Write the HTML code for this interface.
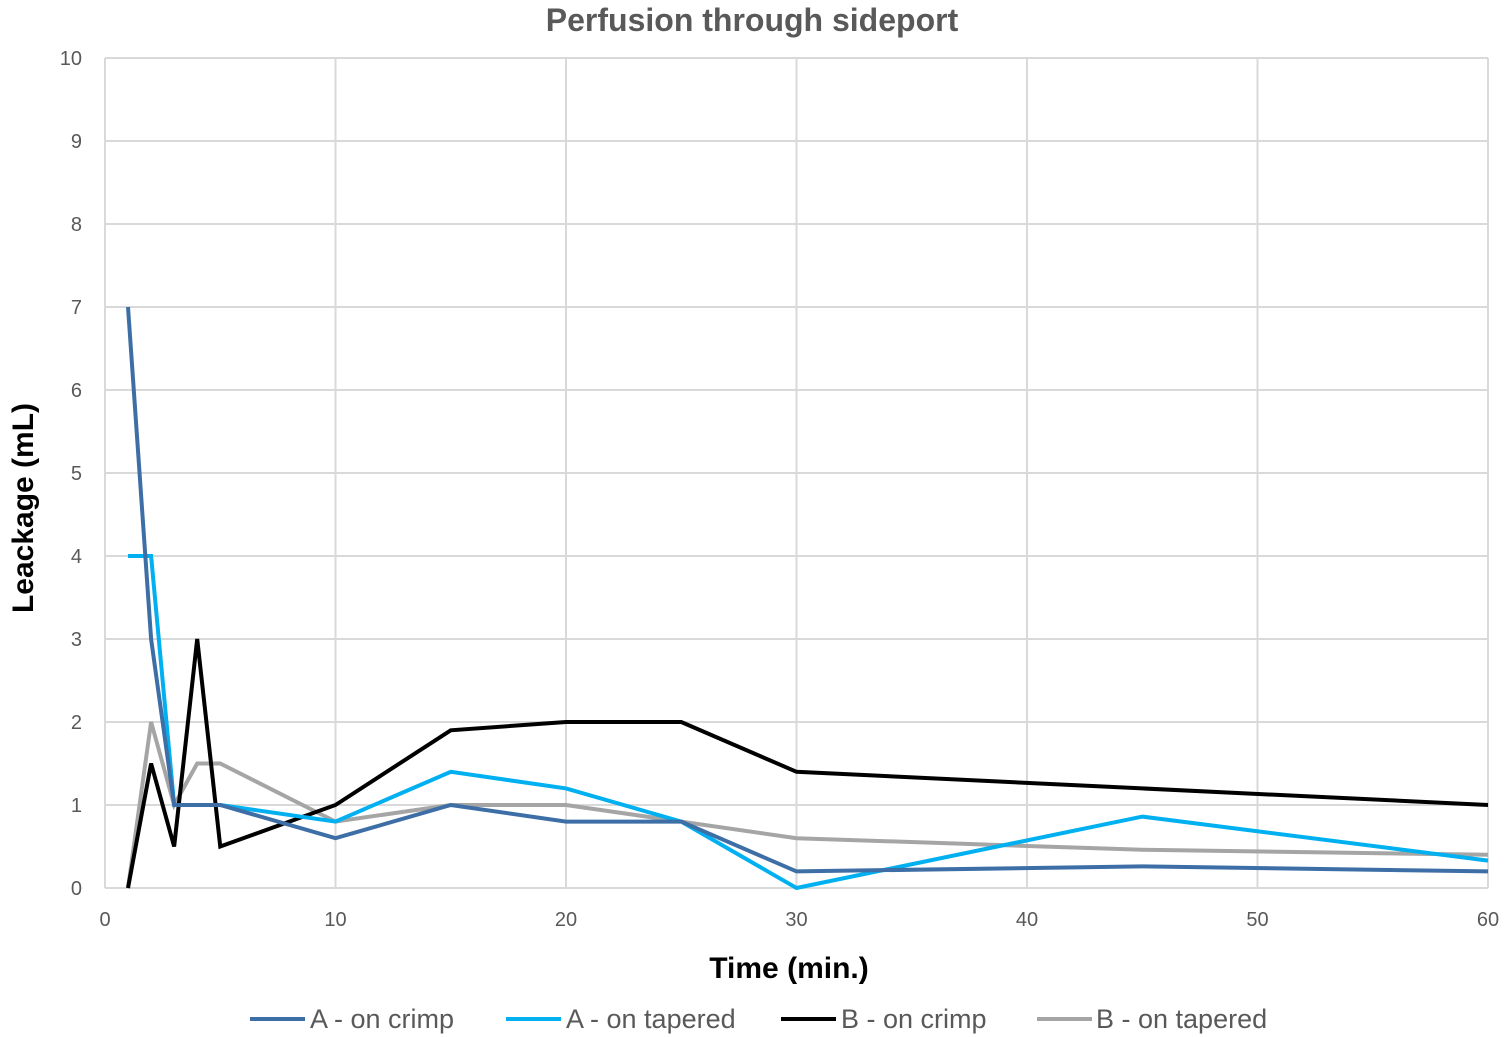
<!DOCTYPE html>
<html><head><meta charset="utf-8"><style>
html,body{margin:0;padding:0;background:#fff;}
svg{display:block;font-family:"Liberation Sans",sans-serif;}
</style></head><body>
<svg width="1505" height="1037" viewBox="0 0 1505 1037">
<rect width="1505" height="1037" fill="#fff"/>
<text x="752" y="31" text-anchor="middle" font-size="32" font-weight="bold" fill="#595959">Perfusion through sideport</text>
<g stroke="#d9d9d9" stroke-width="2" fill="none">
<line x1="105" y1="58" x2="1488" y2="58"/><line x1="105" y1="141" x2="1488" y2="141"/><line x1="105" y1="224" x2="1488" y2="224"/><line x1="105" y1="307" x2="1488" y2="307"/><line x1="105" y1="390" x2="1488" y2="390"/><line x1="105" y1="473" x2="1488" y2="473"/><line x1="105" y1="556" x2="1488" y2="556"/><line x1="105" y1="639" x2="1488" y2="639"/><line x1="105" y1="722" x2="1488" y2="722"/><line x1="105" y1="805" x2="1488" y2="805"/><line x1="105" y1="888" x2="1488" y2="888"/>
<line x1="105" y1="58" x2="105" y2="888"/><line x1="335.5" y1="58" x2="335.5" y2="888"/><line x1="566" y1="58" x2="566" y2="888"/><line x1="796.5" y1="58" x2="796.5" y2="888"/><line x1="1027" y1="58" x2="1027" y2="888"/><line x1="1257.5" y1="58" x2="1257.5" y2="888"/><line x1="1488" y1="58" x2="1488" y2="888"/>
</g>
<g font-size="20" fill="#595959" text-anchor="end">
<text x="82" y="65">10</text><text x="82" y="148">9</text><text x="82" y="231">8</text><text x="82" y="314">7</text><text x="82" y="397">6</text><text x="82" y="480">5</text><text x="82" y="563">4</text><text x="82" y="646">3</text><text x="82" y="729">2</text><text x="82" y="812">1</text><text x="82" y="895">0</text>
</g>
<g font-size="20" fill="#595959" text-anchor="middle">
<text x="105" y="926">0</text><text x="335.5" y="926">10</text><text x="566" y="926">20</text><text x="796.5" y="926">30</text><text x="1027" y="926">40</text><text x="1257.5" y="926">50</text><text x="1488" y="926">60</text>
</g>
<text x="789" y="978" text-anchor="middle" font-size="30" font-weight="bold" fill="#000">Time (min.)</text>
<text transform="translate(33,508) rotate(-90)" text-anchor="middle" font-size="30" font-weight="bold" fill="#000">Leackage (mL)</text>
<g fill="none" stroke-width="4" stroke-linejoin="miter">
<polyline stroke="#a5a5a5" points="128,888 151.1,722 174.15,805 197.2,763.5 220.25,763.5 335.5,821.6 450.75,805 566,805 681.25,821.6 796.5,838.2 1142.25,849.8 1488,854.8"/>
<polyline stroke="#000" points="128,888 151.1,763.5 174.15,846.5 197.2,639 220.25,846.5 335.5,805 450.75,730.3 566,722 681.25,722 796.5,771.8 1142.25,788.4 1488,805"/>
<polyline stroke="#00b0f0" points="128,556 151.1,556 174.15,805 220.25,805 335.5,821.6 450.75,771.8 566,788.4 681.25,821.6 796.5,888 1142.25,816.6 1488,860.6"/>
<polyline stroke="#3e6ea6" points="128,307 151.1,639 174.15,805 220.25,805 335.5,838.2 450.75,805 566,821.6 681.25,821.6 796.5,871.4 1142.25,866.4 1488,871.4"/>
</g>
<g font-size="27" fill="#595959">
<line x1="250" y1="1019" x2="305" y2="1019" stroke="#3e6ea6" stroke-width="4"/><text x="310" y="1028">A - on crimp</text>
<line x1="506" y1="1019" x2="561" y2="1019" stroke="#00b0f0" stroke-width="4"/><text x="566" y="1028">A - on tapered</text>
<line x1="781" y1="1019" x2="836" y2="1019" stroke="#000" stroke-width="4"/><text x="841" y="1028">B  - on crimp</text>
<line x1="1037" y1="1019" x2="1092" y2="1019" stroke="#a5a5a5" stroke-width="4"/><text x="1096" y="1028">B - on tapered</text>
</g>
</svg>
</body></html>
